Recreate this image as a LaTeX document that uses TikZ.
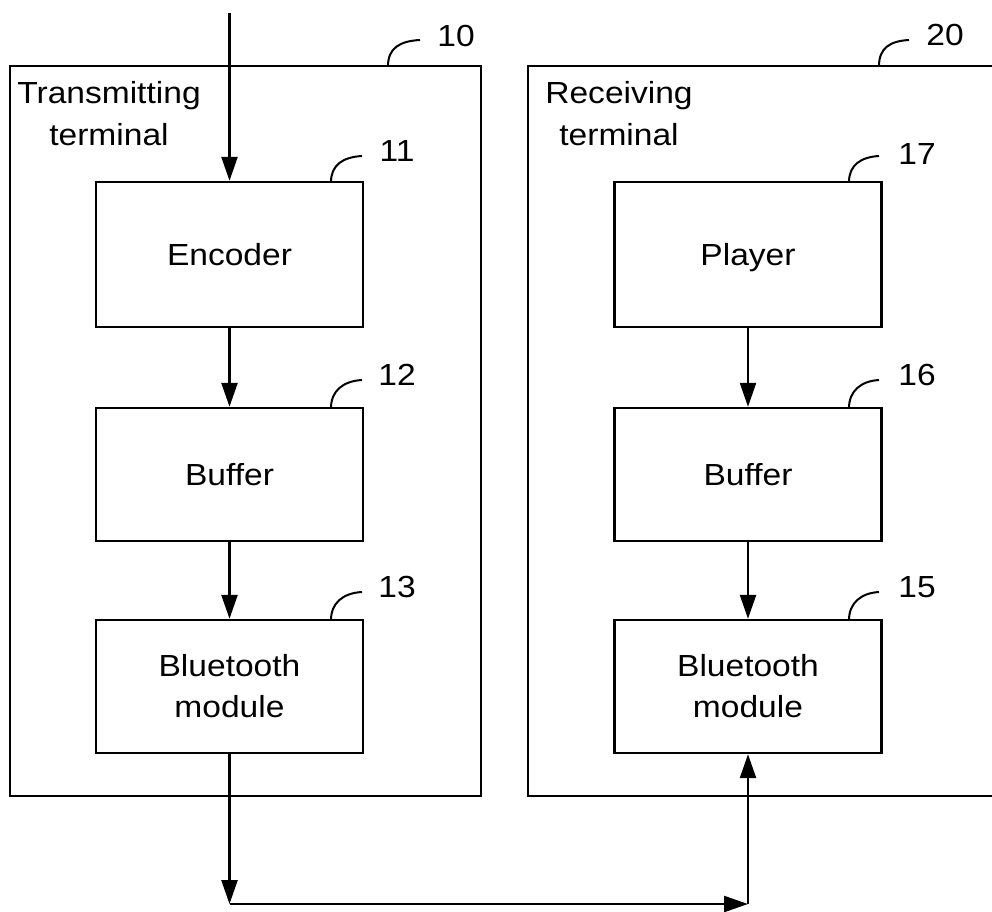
\documentclass[tikz,border=0pt]{standalone}
\usepackage{fontspec}
\setmainfont{Liberation Sans}[FakeStretch=1.1]
\usetikzlibrary{arrows.meta}
\begin{document}
\begin{tikzpicture}[x=1pt,y=-1pt,
  blkbase/.style={draw, line width=2.4pt, minimum width=267pt, inner sep=0pt, align=center,
    font=\fontsize{30.5}{41}\selectfont},
  blk/.style={blkbase, text height=22pt, text depth=0pt},
  outer/.style={draw, line width=2.2pt, inner sep=0pt},
  ttl/.style={anchor=south, inner sep=0pt, align=center, text depth=0pt,
    font=\fontsize{30.5}{42}\selectfont},
  num/.style={inner sep=0pt, font=\fontsize{30.5}{36}\selectfont, text height=21.5pt, text depth=0pt},
  lead/.style={line width=2pt},
  arr/.style={line width=2.4pt, -{Triangle[length=24pt,width=16pt]}}]
\useasboundingbox (0,0) rectangle (992,911);
\clip (0,0) rectangle (992,911);
% outer terminals
\node[outer, minimum width=471pt, minimum height=730pt] (tx) at (245.5,431) {};
\node[outer, minimum width=480pt, minimum height=730pt] (rx) at (768,431) {};
\node[ttl] (txl) at (109,146) {Transmitting\\terminal};
\node[ttl] (rxl) at (619,146) {Receiving\\terminal};
% blocks
\node[blk, minimum height=145pt] (enc) at (229.5,254.5) {Encoder};
\node[blk, minimum height=133pt] (buf1) at (229.5,474.5) {Buffer};
\node[blkbase, minimum height=133pt] (bt1) at (229.5,686.5) {Bluetooth\\module};
\node[blk, minimum height=145pt] (ply) at (748,254.5) {Player};
\node[blk, minimum height=133pt] (buf2) at (748,474.5) {Buffer};
\node[blkbase, minimum height=133pt] (bt2) at (748,686.5) {Bluetooth\\module};
% reference numbers
\node[num] (n10) at (456,35.5) {10};
\node[num] (n11) at (397,151) {11};
\node[num] (n12) at (397,375) {12};
\node[num] (n13) at (397,587) {13};
\node[num] (n20) at (945,35) {20};
\node[num] (n17) at (917,154) {17};
\node[num] (n16) at (917,375) {16};
\node[num] (n15) at (917,587) {15};
% leader lines
\draw[lead] (388,66) .. controls (388,48) and (400,41) .. (420,40);
\draw[lead] (331,182) .. controls (331,165) and (343,157) .. (362,156);
\draw[lead] (331,408) .. controls (331,391) and (343,381) .. (362,380);
\draw[lead] (331,620) .. controls (331,603) and (343,593) .. (362,592);
\draw[lead] (879,66) .. controls (879,48) and (890,41) .. (909,40);
\draw[lead] (849,182) .. controls (849,165) and (861,157) .. (879,156);
\draw[lead] (849,408) .. controls (849,391) and (861,381) .. (879,380);
\draw[lead] (849,620) .. controls (849,603) and (861,593) .. (879,592);
% connectors
\coordinate (in) at (229.5,13);
\coordinate (c1) at (229.5,904);
\coordinate (c2) at (748,904);
\draw[arr] (in) -- (enc.north);
\draw[arr] (enc) -- (buf1);
\draw[arr] (buf1) -- (bt1);
\draw[arr] (ply) -- (buf2);
\draw[arr] (buf2) -- (bt2);
\draw[arr] (bt1) -- (c1);
\draw[arr] (c1) -- (c2);
\draw[arr] (c2) -- (bt2);
\end{tikzpicture}
\end{document}
